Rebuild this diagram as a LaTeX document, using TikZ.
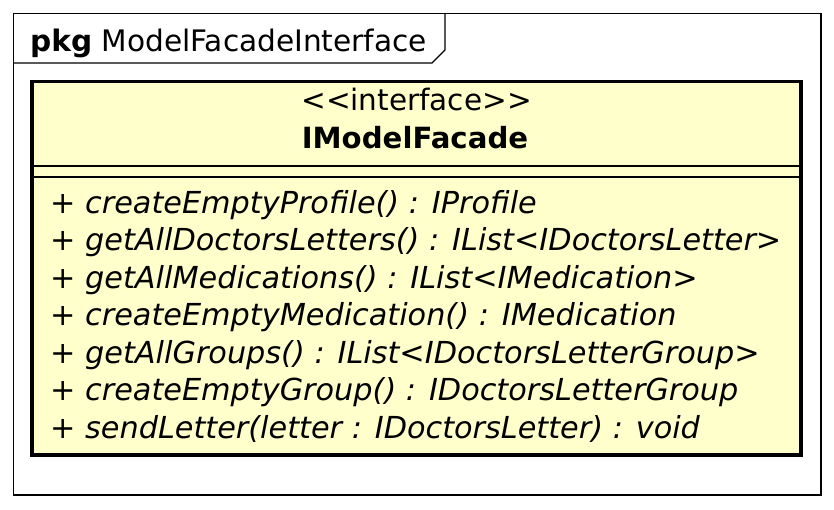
\documentclass[tikz,border=0pt]{standalone}
\usepackage{fontspec}
\setmainfont{DejaVu Sans}
\begin{document}
\begin{tikzpicture}[x=1pt,y=-1pt,
  frameline/.style={draw=black,line width=1.3pt},
  classbox/.style={draw=black,line width=3.5pt,fill=classfill},
  sepline/.style={draw=black,line width=1.4pt},
  optext/.style={anchor=base west,inner sep=0pt,font=\fontsize{30.3}{36}\selectfont\itshape},
  headtext/.style={anchor=base,inner sep=0pt,font=\fontsize{29.5}{36}\selectfont}]
\definecolor{classfill}{RGB}{255,255,204}
\useasboundingbox[fill=white] (0,0) rectangle (834,509);
% package frame with name tab
\draw[frameline] (13.5,13.5) rectangle (821,495);
\draw[frameline] (13.5,63) -- (432,63) -- (445,50) -- (445,13.5);
\node[anchor=base west,inner sep=0pt,font=\fontsize{29.6}{36}\selectfont] (pkg) at (30,51) {\textbf{pkg} ModelFacadeInterface};
% interface class box
\path[classbox] (32,81.5) rectangle (801,455);
\draw[sepline] (32,166) -- (801,166);
\draw[sepline] (32,177) -- (801,177);
\node[headtext] (stereo) at (416.5,110) {<{}<interface>{}>};
\node[headtext,font=\fontsize{29.2}{36}\selectfont\bfseries] (name) at (415,148) {IModelFacade};
\node[optext] (op1) at (50,213) {+ createEmptyProfile() : IProfile};
\node[optext] (op2) at (50,250.5) {+ getAllDoctorsLetters() : IList<IDoctorsLetter>};
\node[optext] (op3) at (50,288) {+ getAllMedications() : IList<IMedication>};
\node[optext] (op4) at (50,325.5) {+ createEmptyMedication() : IMedication};
\node[optext] (op5) at (50,363) {+ getAllGroups() : IList<IDoctorsLetterGroup>};
\node[optext] (op6) at (50,400.5) {+ createEmptyGroup() : IDoctorsLetterGroup};
\node[optext] (op7) at (50,438) {+ sendLetter(letter : IDoctorsLetter) : void};
\end{tikzpicture}
\end{document}
